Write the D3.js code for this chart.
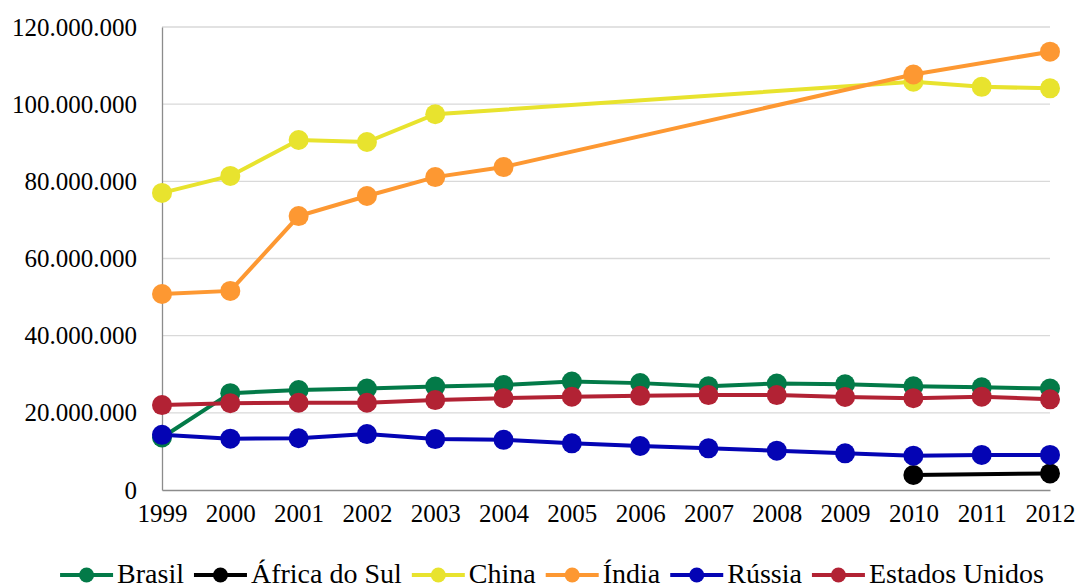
<!doctype html>
<html>
<head>
<meta charset="utf-8"/>
<title>BRICS e Estados Unidos</title>
<script src="https://d3js.org/d3.v7.min.js"></script>
<style>
  body { margin: 0; background: #fff; }
  svg text { font-family: "Liberation Serif", "Times New Roman", Times, "DejaVu Serif", serif; fill: #000; }
</style>
</head>
<body>
<div id="grafico"></div>
<script>
// anos e valores (null = sem dado)
var anos = [1999, 2000, 2001, 2002, 2003, 2004, 2005, 2006, 2007, 2008, 2009, 2010, 2011, 2012];
var brasil = [13.6, 25.1, 25.9, 26.3, 26.8, 27.2, 28.1, 27.7, 26.9, 27.6, 27.4, 26.9, 26.6, 26.3];
var africaDoSul = [null, null, null, null, null, null, null, null, null, null, null, 3.9, null, 4.3];
var china = [77.0, 81.4, 90.7, 90.2, 97.4, null, null, null, null, null, null, 105.8, 104.5, 104.1];
var india = [50.8, 51.6, 71.0, 76.2, 81.1, 83.7, null, null, null, null, null, 107.7, null, 113.6];
var russia = [14.3, 13.3, 13.4, 14.5, 13.2, 13.0, 12.1, 11.4, 10.8, 10.2, 9.5, 8.9, 9.1, 9.1];
var eua = [22.0, 22.5, 22.6, 22.6, 23.3, 23.8, 24.2, 24.4, 24.6, 24.6, 24.1, 23.8, 24.2, 23.5];
var yTicks = [0, 20, 40, 60, 80, 100, 120];

var series = [
  {nome: "Brasil", cor: "#037a48", valores: brasil},
  {nome: "África do Sul", cor: "#000000", valores: africaDoSul},
  {nome: "China", cor: "#e8e32e", valores: china},
  {nome: "Índia", cor: "#fd9832", valores: india},
  {nome: "Rússia", cor: "#0404b4", valores: russia},
  {nome: "Estados Unidos", cor: "#b22234", valores: eua}
];

var largura = 1080, altura = 588;
var esq = 162, dir = 1050, topo = 27, base = 490;
var fonte = "'Liberation Serif', 'Times New Roman', Times, 'DejaVu Serif', serif";

var svg = d3.select("#grafico").append("svg")
  .attr("width", largura)
  .attr("height", altura);

var x = d3.scalePoint().domain(anos).range([esq, dir]);
var y = d3.scaleLinear().domain([0, 120]).range([base, topo]);

function formata(v) {
  // milhoes com ponto como separador
  return d3.format(",")(v * 1000000).replace(/,/g, ".");
}

// grade
svg.append("g")
  .selectAll("line")
  .data(yTicks.filter(function(d) { return d > 0; }))
  .enter().append("line")
  .attr("x1", esq).attr("x2", dir)
  .attr("y1", function(d) { return y(d); })
  .attr("y2", function(d) { return y(d); })
  .attr("stroke", "#d9d9d9")
  .attr("stroke-width", 1.3);

// eixo y
var eixoY = svg.append("g")
  .attr("transform", "translate(" + esq + ",0)")
  .call(d3.axisLeft(y).tickValues(yTicks).tickSize(0).tickPadding(25).tickFormat(formata))
  .attr("font-family", fonte)
  .attr("font-size", 25);
eixoY.select(".domain").attr("stroke", "#8c8c8c").attr("stroke-width", 1.3);
eixoY.selectAll("text").attr("fill", "#000");

// eixo x
var eixoX = svg.append("g")
  .attr("transform", "translate(0," + base + ")")
  .call(d3.axisBottom(x).tickSize(0).tickPadding(14))
  .attr("font-family", fonte)
  .attr("font-size", 25);
eixoX.select(".domain").attr("stroke", "#8c8c8c").attr("stroke-width", 1.3);
eixoX.selectAll("text").attr("fill", "#000");

var linha = d3.line()
  .x(function(d) { return x(d.ano); })
  .y(function(d) { return y(d.v); });

series.forEach(function(s) {
  var pts = anos.map(function(a, i) { return {ano: a, v: s.valores[i]}; })
    .filter(function(d) { return d.v !== null; });
  var g = svg.append("g");
  g.append("path")
    .datum(pts)
    .attr("d", linha)
    .attr("fill", "none")
    .attr("stroke", s.cor)
    .attr("stroke-width", 4);
  g.selectAll("circle")
    .data(pts)
    .enter().append("circle")
    .attr("cx", function(d) { return x(d.ano); })
    .attr("cy", function(d) { return y(d.v); })
    .attr("r", 10)
    .attr("fill", s.cor);
});

// legenda
var leg = svg.append("g").attr("font-family", fonte).attr("font-size", 28);
var posX = 0;
series.forEach(function(s) {
  var item = leg.append("g").attr("transform", "translate(" + posX + ",0)");
  item.append("line")
    .attr("x1", 0).attr("x2", 53)
    .attr("y1", 0).attr("y2", 0)
    .attr("stroke", s.cor)
    .attr("stroke-width", 4);
  item.append("circle")
    .attr("cx", 26.5).attr("cy", 0).attr("r", 7.5)
    .attr("fill", s.cor);
  var t = item.append("text")
    .attr("x", 57)
    .attr("y", 8)
    .text(s.nome);
  posX += 57 + t.node().getComputedTextLength() + 10;
});
var larguraLeg = posX - 10;
leg.attr("transform", "translate(" + ((largura - larguraLeg) / 2 + 12) + ",575)");
</script>
</body>
</html>
